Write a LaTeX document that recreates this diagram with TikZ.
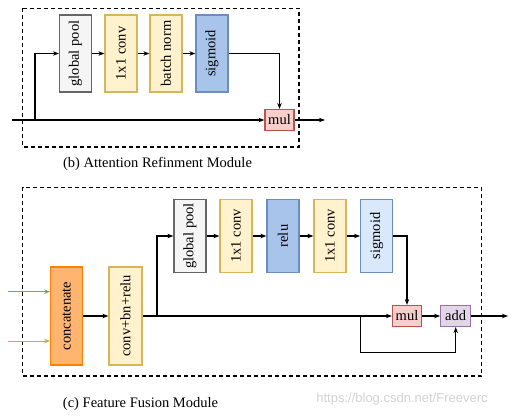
\documentclass[tikz,border=0pt]{standalone}
\usepackage{fontspec}
\setmainfont{Liberation Serif}
\newfontfamily\wmfont{Liberation Sans}
\usetikzlibrary{arrows.meta}
\definecolor{grayF}{HTML}{F5F5F5}\definecolor{grayD}{HTML}{666666}
\definecolor{yelF}{HTML}{FFF2CC}\definecolor{yelD}{HTML}{D6B656}
\definecolor{bluF}{HTML}{A9C4EB}\definecolor{bluD}{HTML}{6C8EBF}
\definecolor{lbluF}{HTML}{DAE8FC}
\definecolor{redF}{HTML}{F8CECC}\definecolor{redD}{HTML}{B85450}
\definecolor{purF}{HTML}{E1D5E7}\definecolor{purD}{HTML}{9673A6}
\definecolor{orF}{HTML}{FFB570}\definecolor{orD}{HTML}{FF8000}
\definecolor{grnL}{HTML}{6FAF4E}\definecolor{yelL}{HTML}{D2A93A}
\tikzset{
  blk/.style={draw, line width=1.2pt, rectangle, inner sep=0pt, font=\fontsize{14.5}{15}\selectfont},
  tall/.style={blk, minimum width=32pt, minimum height=77pt},
  tall2/.style={blk, minimum width=32pt, minimum height=73.5pt},
  opbox/.style={blk, minimum width=29pt, minimum height=21pt},
  gpool/.style={fill=grayF, draw=grayD},
  yel/.style={fill=yelF, draw=yelD},
  blu/.style={fill=bluF, draw=bluD},
  lblu/.style={fill=lbluF, draw=bluD},
  red/.style={fill=redF, draw=redD},
  pur/.style={fill=purF, draw=purD},
  org/.style={fill=orF, draw=orD},
  conn/.style={line width=1.2pt, -{Stealth[length=6pt,width=4.5pt]}},
  plain/.style={line width=1.2pt},
  frame/.style={line width=1.3pt, dash pattern=on 4pt off 3pt},
  captext/.style={font=\fontsize{14.5}{16}\selectfont}
}
\begin{document}
\begin{tikzpicture}[x=1pt,y=-1pt]
\useasboundingbox (0,0) rectangle (515,418);
% ---------- top panel ----------
\draw[frame] (22.7,8.3) rectangle (299,147);
\node[tall,gpool] (gp1) at (75.5,53.5) {\rotatebox{90}{global pool}};
\node[tall,yel] (cv1) at (121,53.5) {\rotatebox{90}{1x1 conv}};
\node[tall,yel] (bn1) at (166,53.5) {\rotatebox{90}{batch norm}};
\node[tall,blu] (sg1) at (212,53.5) {\rotatebox{90}{sigmoid}};
\node[opbox,red] (mul1) at (279.5,120) {mul};
\coordinate (in1) at (12,120);
\coordinate (br1) at (35,120);
\coordinate (out1) at (325,120);
\draw[plain] (in1) -- (br1);
\draw[conn] (br1) -- (mul1);
\draw[conn] (br1) |- (gp1);
\draw[conn] (gp1) -- (cv1);
\draw[conn] (cv1) -- (bn1);
\draw[conn] (bn1) -- (sg1);
\draw[conn] (sg1.east) -| (mul1.north);
\draw[conn] (mul1) -- (out1);
\node[captext] (capb) at (157.5,164) {(b) Attention Refinment Module};
% ---------- bottom panel ----------
\draw[frame] (22.7,187.3) rectangle (481.7,376);
\node[blk,org,minimum width=32pt,minimum height=98pt] (cat) at (66.7,316) {\rotatebox{90}{concatenate}};
\node[blk,yel,minimum width=33pt,minimum height=98pt] (cbr) at (125.5,316) {\rotatebox{90}{conv+bn+relu}};
\node[tall2,gpool] (gp2) at (190,236) {\rotatebox{90}{global pool}};
\node[tall2,yel] (cv2) at (236,236) {\rotatebox{90}{1x1 conv}};
\node[tall2,blu] (relu) at (283,236) {\rotatebox{90}{relu}};
\node[tall2,yel] (cv3) at (330,236) {\rotatebox{90}{1x1 conv}};
\node[tall2,lblu] (sg2) at (376.7,236) {\rotatebox{90}{sigmoid}};
\node[opbox,red] (mul2) at (407,316) {mul};
\node[opbox,pur,minimum width=30pt] (add2) at (455.7,316) {add};
\coordinate (ing) at (8,291.7);
\coordinate (iny) at (8,341);
\coordinate (br2) at (157,316);
\coordinate (sk1) at (360.7,316);
\coordinate (sk2) at (360.7,352.3);
\coordinate (out2) at (508,316);
\draw[conn,draw=grnL,fill=grnL,line width=1pt] (ing) -- (ing -| cat.west);
\draw[conn,draw=yelL,fill=yelL,line width=1pt] (iny) -- (iny -| cat.west);
\draw[conn] (cat) -- (cbr);
\draw[line width=2pt] (cbr.east) -- (sk1);
\draw[conn] (sk1) -- (mul2);
\draw[conn] (br2) |- (gp2);
\draw[conn] (gp2) -- (cv2);
\draw[conn] (cv2) -- (relu);
\draw[conn] (relu) -- (cv3);
\draw[conn] (cv3) -- (sg2);
\draw[conn] (sg2.east) -| (mul2.north);
\draw[conn] (mul2) -- (add2);
\draw[conn] (sk1) -- (sk2) -| (add2.south);
\draw[conn] (add2) -- (out2);
\node[captext] (capc) at (140.5,404) {(c) Feature Fusion Module};
\node[font=\wmfont\fontsize{13}{14}\selectfont, text=gray!35] (wm) at (402,399) {https://blog.csdn.net/Freeverc};
\end{tikzpicture}
\end{document}
